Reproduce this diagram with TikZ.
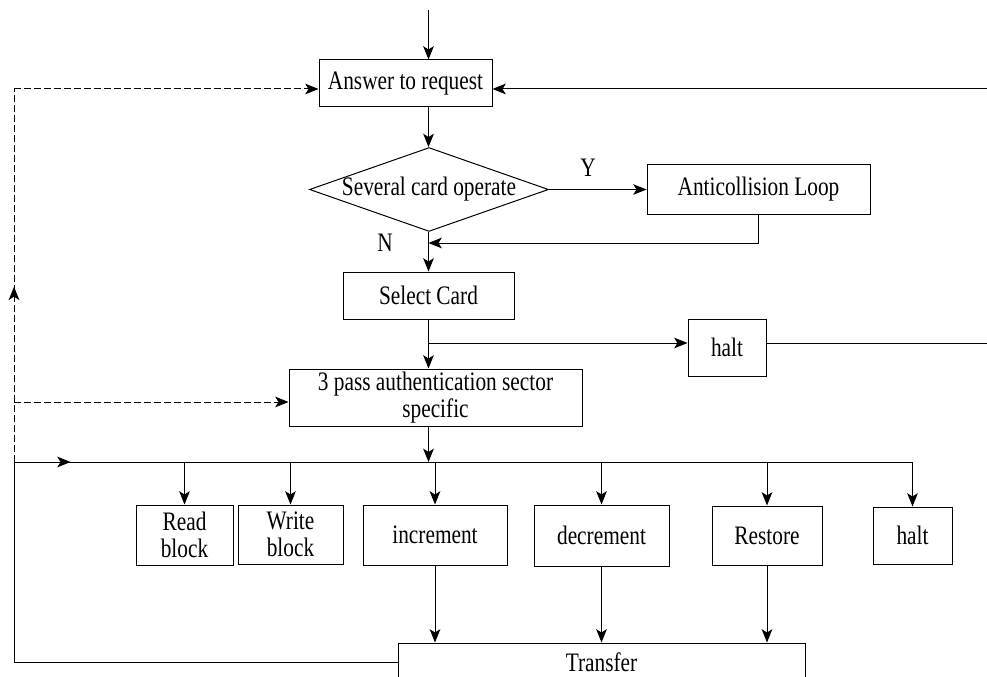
\documentclass[tikz,border=0pt]{standalone}
\usepackage{fontspec}
\setmainfont{Liberation Serif}[FakeStretch=0.8]
\usetikzlibrary{arrows.meta, positioning, shapes.geometric, decorations.markings}

\begin{document}
\begin{tikzpicture}[x=0.75pt, y=-0.75pt,
    every path/.style={line width=0.75pt},
    txt/.style={font=\fontsize{20}{20.5}\selectfont},
    box/.style={draw, txt, inner sep=0pt, align=center},
    decision/.style={draw, diamond, txt, inner xsep=-1.5pt, inner ysep=0pt,
        shape aspect=2.85, minimum width=177.75pt, minimum height=62.25pt},
    arr/.style={-{Stealth[length=10pt, width=8pt, inset=2.5pt]}},
    loopline/.style={dash pattern=on 5pt off 2.5pt},
    midarr/.style={postaction={decorate, decoration={markings,
        mark=at position #1 with {\arrow{Stealth[length=10pt, width=8pt, inset=2.5pt]}}}}},
]
    \useasboundingbox (0,0) rectangle (987,677);

    % Main chain
    \node[box, minimum width=129.75pt, minimum height=35.25pt] (answer) at (405.5,83.5) {Answer to request};
    \node[decision] (multi) at (429,189.5) {Several card operate};
    \node[box, minimum width=167.25pt, minimum height=36.75pt] (anti) at (758.5,189.5) {Anticollision Loop};
    \node[box, minimum width=128.25pt, minimum height=35.25pt] (select) at (428.5,295.5) {Select Card};
    \node[box, minimum width=58.5pt, minimum height=42.75pt] (halta) at (727,347.5) {halt};
    \node[box, minimum width=219.75pt, minimum height=42.75pt] (auth) at (435.5,397.5)
        {3 pass authentication sector\\specific};

    % Operations
    \node[box, minimum width=72.75pt, minimum height=45pt] (readb) at (184.5,535) {Read\\block};
    \node[box, minimum width=78.75pt, minimum height=44.25pt] (writeb) at (290.5,534.5) {Write\\block};
    \node[box, minimum width=108pt, minimum height=45pt] (incr) at (435,535) {increment};
    \node[box, minimum width=101.25pt, minimum height=45.75pt] (decr) at (601.5,535.5) {decrement};
    \node[box, minimum width=82.5pt, minimum height=44.25pt] (restore) at (767,535.5) {Restore};
    \node[box, minimum width=59.25pt, minimum height=42.75pt] (haltb) at (912.5,535.5) {halt};
    \node[box, minimum width=305.25pt, minimum height=28.5pt] (transfer) at (601.5,662) {Transfer};

    % Labels
    \node[txt] (ylab) at (588,168) {Y};
    \node[txt] (nlab) at (385,243) {N};

    % Free ends
    \coordinate (top) at (428.5,10);
    \coordinate (rtop) at (987,89);
    \coordinate (rhalt) at (987,343);
    \coordinate (njoin) at (428.5,243);
    \coordinate (hbr) at (428.5,343);
    \coordinate (bus) at (428.5,462);
    \coordinate (lbus) at (14,462);
    \coordinate (ltop) at (14,89);
    \coordinate (lauth) at (14,402);

    % Connectors
    \draw[arr] (top) -- (top |- answer.north);
    \draw[arr] (rtop) -- (rtop -| answer.east);
    \draw[arr] (top |- answer.south) -- (top |- multi.north);
    \draw[arr] (multi.east) -- (anti.west);
    \draw[arr] (top |- multi.south) -- (select.north);
    \draw[arr] (anti.south) |- (njoin);
    \draw[arr] (select.south) -- (select.south |- auth.north);
    \draw[arr] (hbr) -- (hbr -| halta.west);
    \draw (hbr -| halta.east) -- (rhalt);
    \draw[arr] (bus |- auth.south) -- (bus);

    % Bus to the operations
    \draw[midarr=0.063] (lbus) -- (lbus -| haltb.north);
    \foreach \op in {readb, writeb, incr, decr, restore, haltb}
        \draw[arr] (\op.north |- bus) -- (\op.north);
    \foreach \op in {incr, decr, restore}
        \draw[arr] (\op.south) -- (\op.south |- transfer.north);
    \draw (transfer.west) -| (lbus);

    % Dashed returns
    \draw[loopline, midarr=0.47] (lbus) -- (ltop);
    \draw[loopline, arr] (ltop) -- (ltop -| answer.west);
    \draw[loopline, arr] (lauth) -- (lauth -| auth.west);
\end{tikzpicture}
\end{document}
